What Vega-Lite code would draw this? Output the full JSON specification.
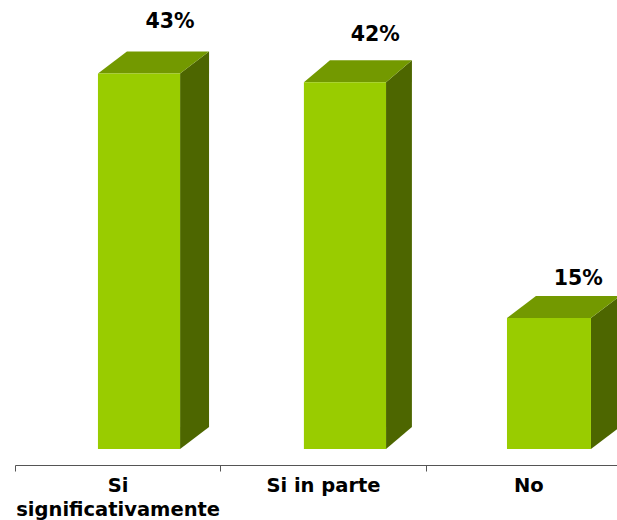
{
"$schema":"https://vega.github.io/schema/vega-lite/v6.json",
"width":616,"height":465,
"padding":{"left":15,"top":0,"right":0,"bottom":55},
"autosize":{"type":"none"},
"background":"white",
"datasets":{
"cats":[{"cat":"Si|significativamente","value":43},{"cat":"Si in parte","value":42},{"cat":"No","value":15}],
"front":[
{"cat":"Si significativamente","x0":0.404,"x1":0.804,"zero":0,"value":43,"lx":0.755,"ly":48.9,"label":"43%"},
{"cat":"Si in parte","x0":1.407,"x1":1.807,"zero":0,"value":42,"lx":1.755,"ly":47.4,"label":"42%"},
{"cat":"No","x0":2.396,"x1":2.805,"zero":0,"value":15,"lx":2.743,"ly":19.5,"label":"15%"}],
"top":[
{"cat":"a","x":0.404,"lo":43,"hi":43},{"cat":"a","x":0.545,"lo":43,"hi":45.52},{"cat":"a","x":0.804,"lo":43,"hi":45.52},{"cat":"a","x":0.945,"lo":45.52,"hi":45.52},
{"cat":"b","x":1.407,"lo":42,"hi":42},{"cat":"b","x":1.534,"lo":42,"hi":44.52},{"cat":"b","x":1.807,"lo":42,"hi":44.52},{"cat":"b","x":1.933,"lo":44.52,"hi":44.52},
{"cat":"c","x":2.396,"lo":15,"hi":15},{"cat":"c","x":2.537,"lo":15,"hi":17.52},{"cat":"c","x":2.805,"lo":15,"hi":17.52},{"cat":"c","x":2.946,"lo":17.52,"hi":17.52}],
"side":[
{"cat":"a","x":0.804,"lo":0,"hi":43},{"cat":"a","x":0.945,"lo":2.52,"hi":45.52},
{"cat":"b","x":1.807,"lo":0,"hi":42},{"cat":"b","x":1.933,"lo":2.52,"hi":44.52},
{"cat":"c","x":2.805,"lo":0,"hi":15},{"cat":"c","x":2.946,"lo":2.52,"hi":17.52}]
},
"resolve":{"scale":{"x":"independent"}},
"layer":[
{"data":{"name":"side"},"mark":{"type":"area","color":"#4D6600","interpolate":"linear"},
  "encoding":{
   "x":{"field":"x","type":"quantitative","scale":{"domain":[0,3],"nice":false,"zero":false},"axis":null},
   "y":{"field":"lo","type":"quantitative","scale":{"domain":[-1.83,51.43],"nice":false,"zero":false},"axis":null,"stack":null},
   "y2":{"field":"hi"},
   "detail":{"field":"cat","type":"nominal"}}},
{"data":{"name":"top"},"mark":{"type":"area","color":"#739900","interpolate":"linear"},
  "encoding":{
   "x":{"field":"x","type":"quantitative","scale":{"domain":[0,3],"nice":false,"zero":false},"axis":null},
   "y":{"field":"lo","type":"quantitative","stack":null,"axis":null},
   "y2":{"field":"hi"},
   "detail":{"field":"cat","type":"nominal"}}},
{"data":{"name":"front"},"mark":{"type":"rect","color":"#99CC00"},
  "encoding":{
   "x":{"field":"x0","type":"quantitative","scale":{"domain":[0,3],"nice":false,"zero":false},"axis":null},"x2":{"field":"x1"},
   "y":{"field":"zero","type":"quantitative","axis":null},"y2":{"field":"value"}}},
{"data":{"name":"front"},"mark":{"type":"text","font":"DejaVu Sans","fontWeight":"bold","fontSize":20.5,"color":"black","align":"center","baseline":"middle"},
  "encoding":{
   "x":{"field":"lx","type":"quantitative","scale":{"domain":[0,3],"nice":false,"zero":false},"axis":null},
   "y":{"field":"ly","type":"quantitative","axis":null},
   "text":{"field":"label","type":"nominal"}}},
{"data":{"name":"cats"},
 "mark":{"type":"tick","opacity":0},
 "encoding":{
  "x":{"field":"cat","type":"nominal","sort":null,
   "scale":{"type":"band","paddingInner":0,"paddingOuter":0},
   "axis":{"title":null,"orient":"bottom","labelAngle":0,"labelAlign":"center","labelBaseline":"top",
    "labelFont":"DejaVu Sans","labelFontWeight":"bold","labelFontSize":19.5,"labelColor":"black","labelPadding":5,"labelLimit":300,
    "labelLineHeight":24,"labelExpr":"split(datum.label,'|')","labelOverlap":false,
    "tickBand":"extent","tickSize":6,"tickColor":"#555555","domainColor":"#555555","grid":false}}
 }}
],
"config":{"view":{"stroke":null}}
}
